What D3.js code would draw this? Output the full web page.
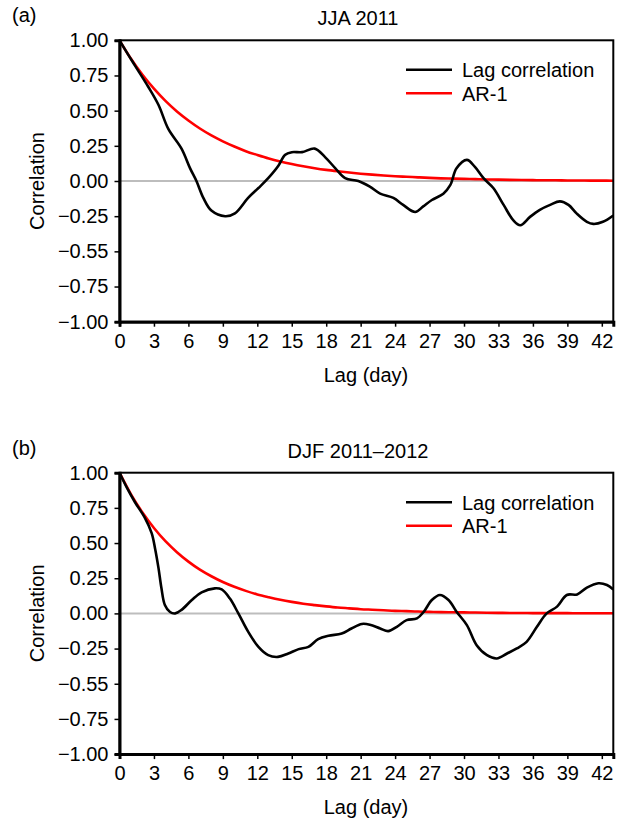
<!DOCTYPE html>
<html>
<head>
<meta charset="utf-8">
<script src="https://cdn.jsdelivr.net/npm/d3@7"></script>
<style>
  body { margin: 0; background: #fff; }
  svg text { font-family: "Liberation Sans", Arial, Helvetica, sans-serif; fill: #000; }
</style>
</head>
<body>
<div id="chart"></div>
<script>
// tick values and labels (labels copied as printed, incl. the -0.55)
var xTicks = [0, 3, 6, 9, 12, 15, 18, 21, 24, 27, 30, 33, 36, 39, 42];
var yTicks = [1, 0.75, 0.5, 0.25, 0, -0.25, -0.5, -0.75, -1];
var yTickLabels = ["1.00", "0.75", "0.50", "0.25", "0.00", "\u22120.25", "\u22120.55", "\u22120.75", "\u22121.00"];

// AR-1 reference curves, one value per lag day 0..43
var ar1Lag = [0,1,2,3,4,5,6,7,8,9,10,11,12,13,14,15,16,17,18,19,20,21,22,23,24,25,26,27,28,29,30,31,32,33,34,35,36,37,38,39,40,41,42,43];
var jjaAr1 = [1.000,0.869,0.755,0.656,0.569,0.494,0.430,0.373,0.324,0.282,0.245,0.212,0.185,0.160,0.139,0.121,0.105,0.091,0.079,0.069,0.060,0.052,0.045,0.039,0.034,0.030,0.026,0.022,0.019,0.017,0.015,0.013,0.011,0.010,0.008,0.007,0.006,0.005,0.005,0.004,0.004,0.003,0.003,0.002];
var djfAr1 = [1.000,0.846,0.717,0.607,0.513,0.435,0.368,0.311,0.264,0.223,0.189,0.160,0.135,0.115,0.097,0.082,0.069,0.059,0.050,0.042,0.036,0.030,0.026,0.022,0.018,0.016,0.013,0.011,0.009,0.008,0.007,0.006,0.005,0.004,0.003,0.003,0.002,0.002,0.002,0.002,0.001,0.001,0.001,0.001];

// lag correlation
var jjaLag = [0, 0.7, 1.35, 2.5, 3.4, 4.25, 5.4, 6.15, 6.7, 7.3, 8.0, 9.2, 10.05, 11.2, 12.1, 12.95, 13.85, 14.4, 15.0, 15.9, 17.0, 17.9, 18.8, 19.65, 20.8, 21.8, 22.7, 23.85, 24.7, 25.75, 26.45, 27.2, 28.2, 28.8, 29.35, 30.25, 30.95, 31.7, 32.55, 33.45, 34.3, 34.9, 35.75, 36.6, 37.5, 38.35, 39.1, 39.8, 40.7, 41.25, 42.1, 43];
var jjaCorr = [1.0, 0.905, 0.82, 0.67, 0.54, 0.37, 0.23, 0.09, 0.0, -0.12, -0.21, -0.25, -0.23, -0.12, -0.05, 0.02, 0.11, 0.185, 0.205, 0.205, 0.23, 0.17, 0.09, 0.02, 0.0, -0.04, -0.09, -0.12, -0.17, -0.22, -0.18, -0.135, -0.09, -0.03, 0.09, 0.15, 0.10, 0.02, -0.05, -0.17, -0.28, -0.315, -0.255, -0.205, -0.17, -0.145, -0.17, -0.23, -0.29, -0.305, -0.29, -0.245];

var djfLag = [0, 0.7, 1.35, 2.2, 2.8, 3.1, 3.4, 3.65, 3.95, 4.4, 4.85, 5.4, 6.3, 7.15, 8.3, 8.9, 9.6, 10.35, 11.2, 12.1, 12.95, 13.8, 14.7, 15.6, 16.45, 17.3, 18.2, 19.35, 20.2, 21.1, 21.8, 22.7, 23.4, 24.15, 25.0, 25.9, 26.5, 27.2, 27.9, 28.65, 29.35, 30.25, 31.1, 32.0, 32.85, 33.75, 34.6, 35.45, 36.35, 37.2, 38.1, 38.95, 39.85, 40.7, 41.7, 42.45, 43];
var djfCorr = [1.0, 0.885, 0.79, 0.68, 0.57, 0.46, 0.32, 0.18, 0.06, 0.01, 0.0, 0.025, 0.095, 0.15, 0.178, 0.17, 0.107, 0.0, -0.13, -0.238, -0.297, -0.309, -0.285, -0.254, -0.238, -0.183, -0.159, -0.143, -0.107, -0.075, -0.08, -0.107, -0.126, -0.095, -0.048, -0.036, 0.012, 0.095, 0.131, 0.095, 0.012, -0.083, -0.226, -0.297, -0.32, -0.285, -0.249, -0.202, -0.095, 0.0, 0.048, 0.131, 0.135, 0.183, 0.214, 0.202, 0.17];

var width = 621, height = 822;
var left = 119.5, right = 613.3, plotH = 281.4;

var svg = d3.select("#chart").append("svg")
    .attr("width", width)
    .attr("height", height);

function zip(xs, ys) {
    return xs.map(function (d, i) { return [d, ys[i]]; });
}

function drawPanel(top, letter, title, lag, corr, ar1) {
    var x = d3.scaleLinear().domain([0, 43]).range([left, right]);
    var y = d3.scaleLinear().domain([-1, 1]).range([top + plotH, top]);

    var g = svg.append("g");

    // zero line
    g.append("line")
        .attr("x1", x(0)).attr("x2", x(43))
        .attr("y1", y(0)).attr("y2", y(0))
        .attr("stroke", "#bdbdbd").attr("stroke-width", 2);

    var line = d3.line()
        .x(function (d) { return x(d[0]); })
        .y(function (d) { return y(d[1]); })
        .curve(d3.curveCatmullRom.alpha(0.5));

    g.append("path")
        .attr("d", line(zip(ar1Lag, ar1)))
        .attr("fill", "none").attr("stroke", "#ff0000").attr("stroke-width", 2.6);

    g.append("path")
        .attr("d", line(zip(lag, corr)))
        .attr("fill", "none").attr("stroke", "#000").attr("stroke-width", 2.6);

    // frame
    g.append("rect")
        .attr("x", x(0)).attr("y", y(1))
        .attr("width", x(43) - x(0)).attr("height", y(-1) - y(1))
        .attr("fill", "none").attr("stroke", "#000").attr("stroke-width", 2);

    var yAxis = g.append("g")
        .attr("transform", "translate(" + x(0) + ",0)")
        .call(d3.axisLeft(y).tickValues(yTicks).tickSize(5).tickPadding(6)
            .tickFormat(function (d, i) { return yTickLabels[i]; }));
    yAxis.select(".domain").attr("stroke-width", 3);
    yAxis.selectAll(".tick line").attr("stroke-width", 1.5);
    yAxis.selectAll("text").style("font-size", "20px");

    var xAxis = g.append("g")
        .attr("transform", "translate(0," + y(-1) + ")")
        .call(d3.axisBottom(x).tickValues(xTicks).tickSize(5).tickPadding(7));
    xAxis.select(".domain").attr("stroke-width", 3);
    xAxis.selectAll(".tick line").attr("stroke-width", 1.5);
    xAxis.selectAll("text").style("font-size", "20px");

    // labels
    g.append("text").attr("x", 12).attr("y", top - 18)
        .style("font-size", "20px").text(letter);
    g.append("text").attr("x", 358).attr("y", top - 15)
        .attr("text-anchor", "middle").style("font-size", "20px").text(title);
    g.append("text").attr("x", 366).attr("y", top + plotH + 60)
        .attr("text-anchor", "middle").style("font-size", "20px").text("Lag (day)");
    g.append("text")
        .attr("transform", "translate(44," + (top + plotH / 2) + ") rotate(-90)")
        .attr("text-anchor", "middle").style("font-size", "20px").text("Correlation");

    // legend
    var legend = [["Lag correlation", "#000"], ["AR-1", "#ff0000"]];
    legend.forEach(function (d, i) {
        var ly = top + 29.5 + i * 23.5;
        g.append("line").attr("x1", 406).attr("x2", 452).attr("y1", ly).attr("y2", ly)
            .attr("stroke", d[1]).attr("stroke-width", 2.6);
        g.append("text").attr("x", 462).attr("y", ly + 7.5)
            .style("font-size", "20px").text(d[0]);
    });
}

drawPanel(40.3, "(a)", "JJA 2011", jjaLag, jjaCorr, jjaAr1);
drawPanel(472.7, "(b)", "DJF 2011\u20132012", djfLag, djfCorr, djfAr1);
</script>
</body>
</html>
